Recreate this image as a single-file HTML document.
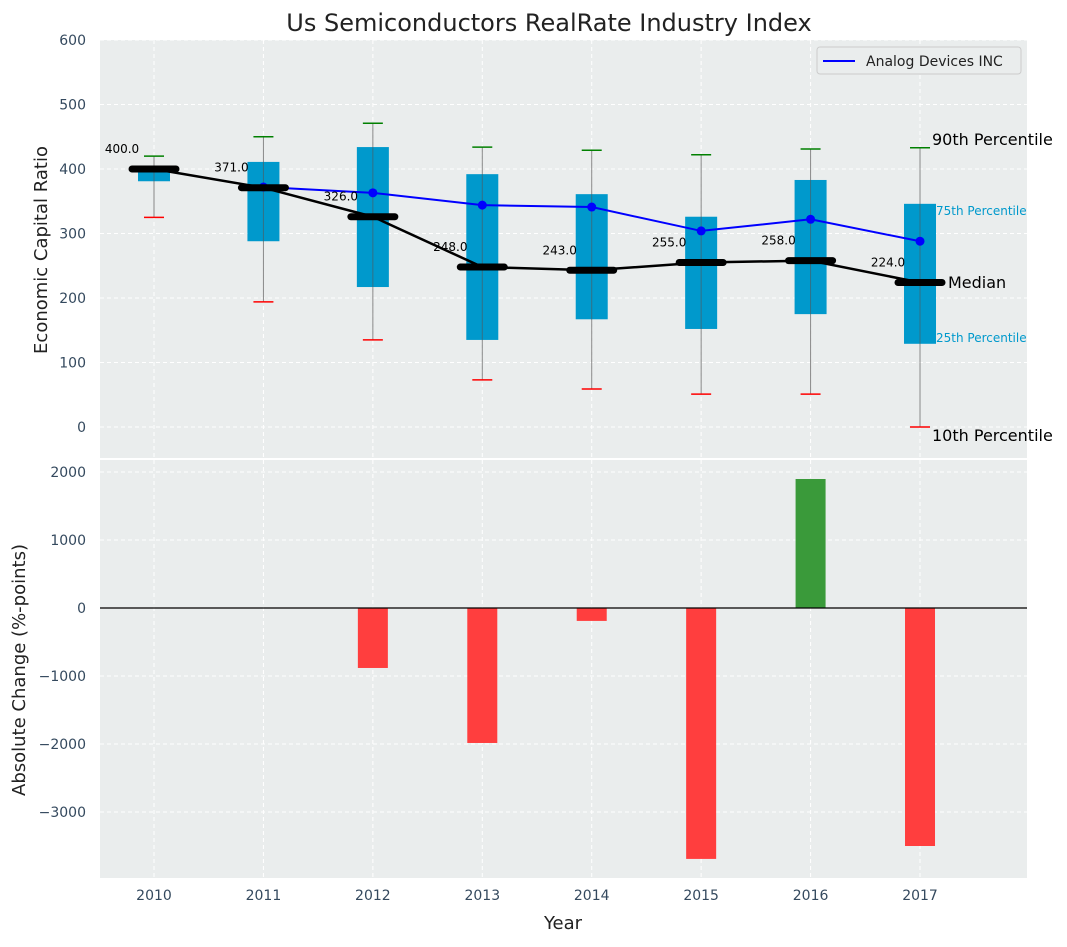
<!DOCTYPE html>
<html><head><meta charset="utf-8"><style>
body{margin:0;background:#fff;font-family:"Liberation Sans","DejaVu Sans",sans-serif;}
svg text{font-family:"DejaVu Sans","Liberation Sans",sans-serif;}
</style></head><body>
<svg id="c" width="1067" height="942" xmlns="http://www.w3.org/2000/svg"></svg>
<script>
const years=[2010,2011,2012,2013,2014,2015,2016,2017];
const p10=[325,194,135,73,59,51,51,0];
const q1=[381,288,217,135,167,152,175,129];
const medians=[400,371,326,248,243,255,258,224];
const q3=[405,411,434,392,361,326,383,346];
const p90=[420,450,471,434,429,422,431,433];
const companyYears=[2011,2012,2013,2014,2015,2016,2017];
const companyVals=[372,363,344,341,304,322,288];
const changes=[0,0,-882,-1985,-190,-3690,1897,-3500];
const topTicks=[0,100,200,300,400,500,600];
const botTicks=[-3000,-2000,-1000,0,1000,2000];

const NS="http://www.w3.org/2000/svg";
const svg=document.getElementById('c');
function el(t,a,txt){const e=document.createElementNS(NS,t);for(const k in a)e.setAttribute(k,a[k]);if(txt!==undefined)e.textContent=txt;svg.appendChild(e);return e;}
const L=100,R=1027;
const x=v=>154+(v-2010)*109.43;
const yT=v=>427-v*0.645;
const yB=v=>608-v*0.068;
const TC="#34495e";

// panels
let e=el('rect',{x:L,y:40,width:R-L,height:418,fill:'#eaeded'});

e=el('rect',{x:L,y:460,width:R-L,height:418,fill:'#eaeded'});

// grids
years.forEach(yr=>{
 el('line',{x1:x(yr),x2:x(yr),y1:40,y2:458,stroke:'#fff','stroke-dasharray':'4,3'});
 el('line',{x1:x(yr),x2:x(yr),y1:460,y2:878,stroke:'#fff','stroke-dasharray':'4,3'});
 e=el('text',{x:x(yr),y:900,'text-anchor':'middle','font-size':14,fill:TC},yr);
 
});
topTicks.forEach(t=>{
 el('line',{x1:L,x2:R,y1:yT(t),y2:yT(t),stroke:'#fff','stroke-dasharray':'4,3'});
 e=el('text',{x:86,y:yT(t)+5,'text-anchor':'end','font-size':14,fill:TC},t);
 
});
botTicks.forEach(t=>{
 el('line',{x1:L,x2:R,y1:yB(t),y2:yB(t),stroke:'#fff','stroke-dasharray':'4,3'});
 e=el('text',{x:86,y:yB(t)+5,'text-anchor':'end','font-size':14,fill:TC},String(t).replace('-','\u2212'));
 
});
// boxes
years.forEach((yr,i)=>{
 const cx=x(yr);
 e=el('line',{x1:cx,x2:cx,y1:yT(p10[i]),y2:yT(p90[i]),stroke:'#888','stroke-width':1});
 
 e=el('rect',{x:cx-16,y:yT(q3[i]),width:32,height:yT(q1[i])-yT(q3[i]),fill:'#0099cc'});
 
 el('line',{x1:cx,x2:cx,y1:yT(q3[i]),y2:yT(q1[i]),stroke:'#555','stroke-width':1,opacity:0.6});
 e=el('line',{x1:cx-10,x2:cx+10,y1:yT(p90[i]),y2:yT(p90[i]),stroke:'green','stroke-width':1.5});
 
 e=el('line',{x1:cx-10,x2:cx+10,y1:yT(p10[i]),y2:yT(p10[i]),stroke:'red','stroke-width':1.5});
 
});
// company line
e=el('polyline',{points:companyYears.map((yr,i)=>x(yr)+','+yT(companyVals[i])).join(' '),fill:'none',stroke:'blue','stroke-width':2});

companyYears.forEach((yr,i)=>{
 e=el('circle',{cx:x(yr),cy:yT(companyVals[i]),r:4.5,fill:'blue'});
 
});
// median line
e=el('polyline',{points:years.map((yr,i)=>x(yr)+','+yT(medians[i])).join(' '),fill:'none',stroke:'#000','stroke-width':2.5});

years.forEach((yr,i)=>{
 e=el('line',{x1:x(yr)-22,x2:x(yr)+22,y1:yT(medians[i]),y2:yT(medians[i]),stroke:'#000','stroke-width':7,'stroke-linecap':'round'});
 
 e=el('text',{x:x(yr)-32,y:yT(medians[i])-16,'text-anchor':'middle','font-size':12,fill:'#000'},medians[i].toFixed(1));
 
});
// annotations
const ax=x(2017);
[['90th Percentile',ax+12,145,16,'#000'],['75th Percentile',ax+16,215,12,'#0099cc'],['Median',ax+28,288,16,'#000'],['25th Percentile',ax+16,342,12,'#0099cc'],['10th Percentile',ax+12,441,16,'#000']].forEach(a=>{
 e=el('text',{x:a[1],y:a[2],'font-size':a[3],fill:a[4]},a[0]);
 
});
// legend
e=el('rect',{x:817,y:47,width:204,height:27,fill:'#eaeded',stroke:'#ccc',rx:3});

el('line',{x1:823,x2:855,y1:61,y2:61,stroke:'blue','stroke-width':2});
e=el('text',{x:866,y:66,'font-size':14,fill:'#222'},'Analog Devices INC');

// bars
years.forEach((yr,i)=>{
 const v=changes[i];if(v===0)return;
 const y0=yB(Math.max(v,0)),h=Math.abs(yB(v)-yB(0));
 e=el('rect',{x:x(yr)-15,y:y0,width:30,height:h,fill:v>0?'#3a9a3a':'#ff3e3e'});
 
});
el('line',{x1:L,x2:R,y1:yB(0),y2:yB(0),stroke:'#000','stroke-width':1.2});
// titles
e=el('text',{x:549,y:31,'text-anchor':'middle','font-size':24,fill:'#222'},'Us Semiconductors RealRate Industry Index');

e=el('text',{x:563,y:929,'text-anchor':'middle','font-size':18,fill:'#222'},'Year');

e=el('text',{x:0,y:0,transform:'translate(47,250) rotate(-90)','text-anchor':'middle','font-size':18,fill:'#222'},'Economic Capital Ratio');

e=el('text',{x:0,y:0,transform:'translate(25,670) rotate(-90)','text-anchor':'middle','font-size':18,fill:'#222'},'Absolute Change (%-points)');

</script>
</body></html>
